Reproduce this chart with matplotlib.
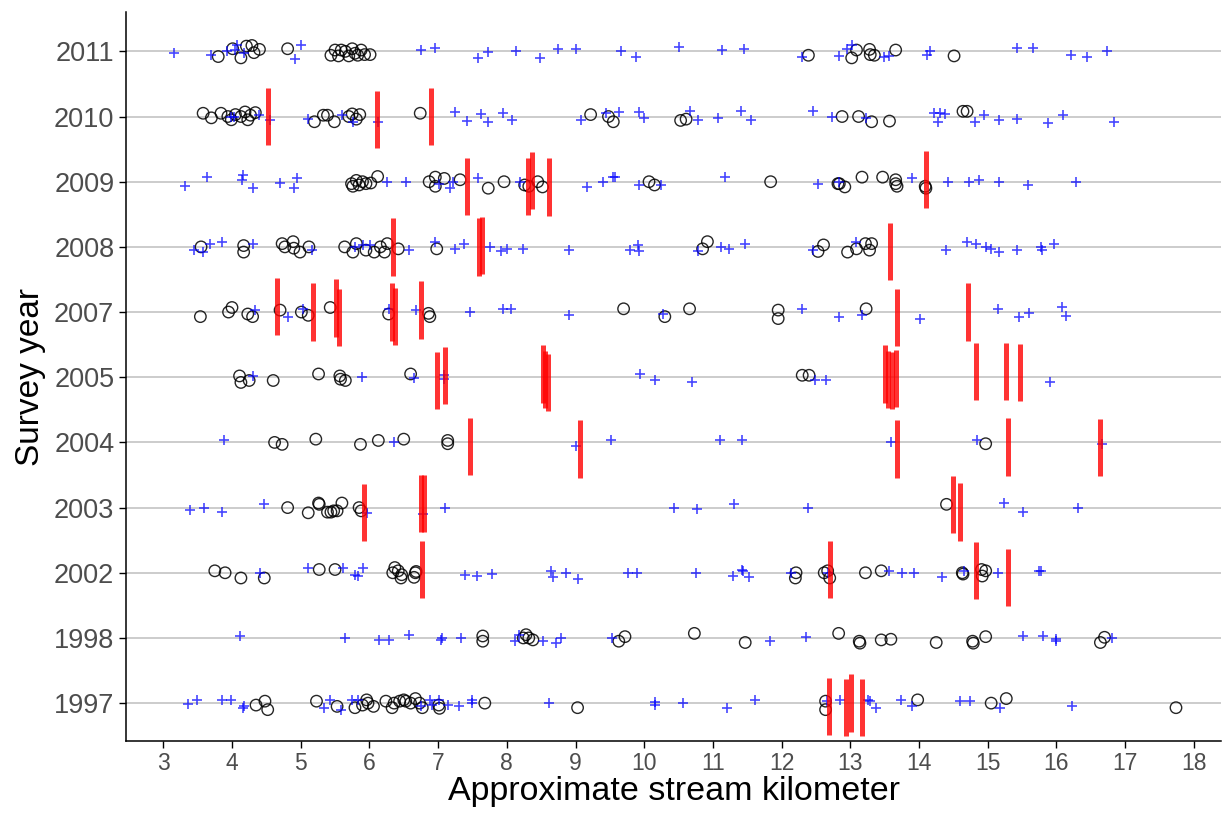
import matplotlib
matplotlib.use("Agg")
import matplotlib.pyplot as plt

plt.rcParams['font.family'] = ['Liberation Sans', 'DejaVu Sans']

# survey years, bottom to top
years = ["1997", "1998", "2002", "2003", "2004", "2005", "2007", "2008", "2009", "2010", "2011"]

# (stream km, vertical jitter)
circ_2011 = [(3.80, -.08), (4.01, .04), (4.13, -.10), (4.21, .08), (4.29, .09), (4.32, -.02), (4.40, .03),
             (4.81, .04), (5.44, -.06), (5.50, .02), (5.55, -.07), (5.59, .02), (5.65, 0), (5.70, -.07),
             (5.75, .04), (5.79, -.03), (5.83, -.06), (5.88, .02), (5.93, -.05), (6.01, -.05), (12.39, -.06),
             (13.02, -.10), (13.09, .02), (13.28, .03), (13.29, -.05), (13.35, -.06), (13.66, .02), (14.51, -.07)]
plus_2011 = [(3.15, -.03), (3.70, -.05), (3.93, 0), (4.05, .02), (4.08, .10), (4.18, -.03), (4.91, -.11),
             (5.01, .09), (6.75, .02), (6.96, .05), (7.58, -.10), (7.72, -.01), (8.13, 0), (8.48, -.10),
             (8.75, .04), (9.01, .03), (9.66, 0), (9.88, -.08), (10.50, .06), (11.13, .02), (11.45, .03),
             (12.30, -.09), (12.84, -.07), (12.95, .04), (13.03, .09), (13.49, -.09), (13.57, -.07),
             (14.11, -.06), (14.16, 0), (15.42, .05), (15.66, .05), (16.21, -.06), (16.45, -.08), (16.73, 0)]
bars_2011 = []

circ_2010 = [(3.58, .05), (3.70, -.02), (3.84, .05), (3.94, 0), (3.99, -.05), (4.05, .03), (4.13, 0),
             (4.19, .07), (4.23, -.05), (4.27, .02), (4.34, .06), (5.20, -.08), (5.33, .02), (5.39, .02),
             (5.49, -.08), (5.70, 0), (5.75, .04), (5.81, -.04), (5.86, .03), (6.74, .05), (9.22, .03),
             (9.48, 0), (9.55, -.08), (10.53, -.06), (10.61, -.04), (12.88, 0), (13.12, 0), (13.31, -.08),
             (13.57, -.07), (14.64, .08), (14.70, .08)]
plus_2010 = [(3.98, 0), (4.03, 0), (4.40, .02), (4.56, -.05), (5.11, -.04), (5.60, .02), (5.76, -.09),
             (6.12, -.08), (7.25, .07), (7.42, -.07), (7.63, .04), (7.72, -.08), (7.94, .05), (8.08, -.05),
             (9.08, -.05), (9.45, .06), (9.63, .07), (9.92, .07), (10.00, -.03), (10.66, .08), (10.78, -.06),
             (11.07, -.03), (11.41, .08), (11.55, -.05), (12.45, .08), (12.73, -.01), (13.23, -.02),
             (14.22, .05), (14.27, -.08), (14.30, .05), (14.38, .04), (14.81, -.08), (14.94, .02),
             (15.17, -.05), (15.43, -.04), (15.88, -.10), (16.09, .02), (16.84, -.08)]
bars_2010 = [(4.53, 0), (6.11, -.05), (6.90, 0)]

circ_2009 = [(5.74, -.03), (5.76, -.07), (5.81, .02), (5.85, -.05), (5.90, 0), (5.95, -.03), (6.02, -.02),
             (6.12, .08), (6.87, 0), (6.96, .07), (6.96, -.07), (7.09, .05), (7.32, .03), (7.73, -.10),
             (7.96, 0), (8.26, -.05), (8.32, -.07), (8.45, 0), (8.52, -.08), (10.07, 0), (10.15, -.05),
             (11.84, 0), (12.82, -.03), (12.84, -.03), (12.92, -.08), (13.17, .07), (13.47, .07), (13.66, .03),
             (13.66, -.03), (13.68, -.07), (14.09, -.07), (14.10, -.10)]
plus_2009 = [(3.31, -.07), (3.63, .07), (4.15, .02), (4.16, .10), (4.31, -.10), (4.70, -.02), (4.90, -.10),
             (4.95, .05), (6.26, -.01), (6.53, 0), (7.01, -.03), (7.18, -.10), (7.22, 0), (7.58, .05),
             (8.19, 0), (9.17, -.08), (9.40, 0), (9.55, .07), (9.57, .07), (9.92, -.05), (10.25, -.05),
             (11.18, .07), (12.53, -.03), (12.84, -.01), (13.90, .05), (14.42, 0), (14.73, 0), (14.88, .03),
             (15.17, 0), (15.58, -.05), (16.28, -.01)]
bars_2009 = [(7.42, -.07), (8.31, -.07), (8.36, .02), (8.62, -.08), (14.10, .03)]

circ_2008 = [(3.55, 0), (4.17, .02), (4.17, -.08), (4.73, .05), (4.77, 0), (4.89, .08), (4.90, -.02),
             (4.99, -.08), (5.12, 0), (5.64, 0), (5.76, -.08), (5.81, .05), (5.95, -.05), (6.07, -.08),
             (6.16, 0), (6.22, -.08), (6.26, .05), (6.42, -.03), (6.98, -.03), (10.85, -.03), (10.92, .08),
             (12.53, -.07), (12.61, .03), (12.96, -.08), (13.09, -.03), (13.22, .05), (13.28, -.05), (13.31, .05)]
plus_2008 = [(3.44, -.05), (3.58, -.08), (3.68, .05), (3.86, .08), (4.30, .05), (5.17, -.05), (5.79, 0),
             (5.90, .03), (6.01, .03), (6.57, -.05), (6.95, .07), (7.25, -.03), (7.37, .05), (7.76, 0),
             (7.91, -.07), (8.01, -.03), (8.24, -.03), (8.90, -.05), (9.79, -.05), (9.91, .03), (9.92, -.07),
             (10.79, -.07), (11.12, 0), (11.23, -.03), (11.47, .05), (12.45, -.05), (13.08, .07), (14.39, -.05),
             (14.70, .07), (14.83, .05), (14.97, 0), (15.05, -.03), (15.17, -.08), (15.42, -.05), (15.78, 0),
             (15.79, -.05), (15.96, .05)]
bars_2008 = [(6.34, 0), (7.60, 0), (7.64, .02), (13.58, -.07)]

circ_2007 = [(3.54, -.07), (3.95, 0), (4.00, .07), (4.23, -.03), (4.30, -.07), (4.70, .03), (5.01, 0),
             (5.11, -.05), (5.43, .07), (6.28, -.03), (6.86, -.02), (6.88, -.07), (9.70, .05), (10.30, -.07),
             (10.66, .05), (11.95, .03), (11.95, -.10), (13.23, .05)]
plus_2007 = [(4.34, .03), (4.81, -.07), (5.03, .05), (6.29, .05), (6.68, .03), (7.46, 0), (7.95, .05),
             (8.06, .05), (8.91, -.05), (10.28, -.03), (12.30, .05), (12.84, -.07), (13.17, -.05),
             (14.02, -.10), (15.15, .04), (15.46, -.07), (15.60, -.02), (16.08, .07), (16.14, -.06)]
bars_2007 = [(4.65, .09), (5.18, 0), (5.52, .06), (5.56, -.08), (6.33, 0), (6.38, -.07), (6.75, .03),
             (13.68, -.08), (14.71, 0)]

circ_2005 = [(4.11, .02), (4.13, -.08), (4.25, -.05), (4.60, -.05), (5.26, .05), (5.57, .02), (5.58, -.03),
             (5.65, -.05), (6.60, .05), (12.30, .03), (12.40, .03)]
plus_2005 = [(4.30, .02), (5.89, 0), (6.65, -.01), (7.08, .03), (7.09, -.03), (9.94, .05), (10.15, -.05),
             (10.70, -.07), (12.48, -.05), (12.64, -.05), (15.91, -.07)]
bars_2005 = [(6.98, -.05), (7.10, .03), (8.52, .05), (8.56, -.03), (8.60, -.08), (13.50, .05), (13.55, -.03),
             (13.61, -.05), (13.66, -.02), (14.83, .09), (15.26, .09), (15.47, .07)]

circ_2004 = [(4.62, 0), (4.73, -.03), (5.22, .05), (5.87, -.03), (6.13, .03), (6.50, .05), (7.14, .03),
             (7.14, -.02), (14.97, -.02)]
plus_2004 = [(3.89, .03), (6.36, 0), (9.00, -.05), (9.51, .03), (11.11, .03), (11.43, .03), (13.59, 0),
             (14.84, .03), (16.66, -.02)]
bars_2004 = [(7.46, -.06), (9.07, -.1), (13.68, -.1), (15.30, -.07), (16.64, -.08)]

circ_2003 = [(4.81, 0), (5.11, -.08), (5.26, .07), (5.27, .05), (5.39, -.07), (5.44, -.07), (5.48, -.05),
             (5.53, -.05), (5.60, .07), (5.85, 0), (5.88, -.05), (14.40, .05)]
plus_2003 = [(3.39, -.03), (3.59, 0), (3.85, -.07), (4.46, .05), (5.96, -.08), (6.78, -.10), (7.10, 0),
             (10.43, 0), (10.77, -.02), (11.30, .05), (12.38, 0), (15.23, .07), (15.51, -.07), (16.31, 0)]
bars_2003 = [(5.92, -.08), (6.75, .06), (6.79, .06), (14.50, .05), (14.59, -.07)]

circ_2002 = [(3.75, .03), (3.90, 0), (4.13, -.08), (4.47, -.08), (5.27, .05), (5.50, .05), (6.34, 0),
             (6.37, .08), (6.42, .03), (6.46, -.08), (6.47, -.03), (6.65, -.07), (6.67, 0), (6.68, .02),
             (12.21, 0), (12.20, -.08), (12.62, 0), (12.67, .03), (12.70, -.08), (13.22, 0), (13.45, .03),
             (14.63, 0), (14.64, -.02), (14.91, .05), (14.97, .03), (14.92, -.05)]
plus_2002 = [(4.41, 0), (5.11, .07), (5.62, .07), (5.79, -.03), (5.83, -.05), (5.91, .07), (7.39, -.03),
             (7.56, -.05), (7.78, -.02), (8.64, .03), (8.67, -.07), (8.86, 0), (9.03, -.10), (9.76, 0),
             (9.89, 0), (10.75, 0), (11.29, -.05), (11.42, .05), (11.44, .03), (11.53, -.07), (12.13, 0),
             (12.68, 0), (13.57, .03), (13.75, 0), (13.92, 0), (14.34, -.07), (14.66, .03), (15.15, -.01),
             (15.75, .03), (15.77, .02)]
bars_2002 = [(6.76, .05), (12.70, .05), (14.83, .03), (15.29, -.07)]

circ_1998 = [(7.65, .03), (7.65, -.05), (8.24, 0), (8.28, .05), (8.32, 0), (8.38, -.03), (9.63, -.05),
             (9.72, .02), (10.73, .07), (11.47, -.07), (12.83, .07), (13.13, -.05), (13.14, -.08), (13.45, -.03),
             (13.59, -.02), (14.25, -.07), (14.78, -.05), (14.79, -.08), (14.97, .02), (16.64, -.07), (16.70, .01)]
plus_1998 = [(4.11, .03), (5.64, 0), (6.14, -.03), (6.28, -.03), (6.58, .05), (7.04, -.03), (7.05, 0),
             (7.34, 0), (8.12, -.05), (8.18, .05), (8.53, -.05), (8.71, -.07), (8.79, 0), (9.53, 0),
             (11.83, -.05), (12.35, .02), (15.52, .03), (15.81, .03), (15.99, -.02), (16.00, -.05), (16.81, 0)]
bars_1998 = []

circ_1997 = [(4.35, -.03), (4.48, .03), (4.52, -.10), (5.23, .03), (5.53, -.05), (5.79, -.07), (5.90, -.03),
             (5.96, .05), (5.98, 0), (6.06, -.05), (6.24, .03), (6.33, -.07), (6.36, 0), (6.44, .03),
             (6.50, .05), (6.53, .03), (6.60, 0), (6.67, .07), (6.73, 0), (6.77, -.07), (7.01, -.03),
             (7.02, -.08), (7.68, 0), (9.03, -.07), (12.64, .03), (12.64, -.10), (13.98, .05), (15.05, 0),
             (15.27, .07), (17.74, -.07)]
plus_1997 = [(3.36, -.01), (3.49, .05), (3.85, .05), (3.99, .05), (4.16, -.07), (4.18, -.05), (5.34, -.07),
             (5.43, .05), (5.59, -.10), (5.75, .05), (5.83, .05), (6.75, -.05), (6.88, .05), (6.91, -.03),
             (7.01, .05), (7.14, -.03), (7.30, -.05), (7.50, .05), (7.50, 0), (8.62, 0), (10.16, .02),
             (10.16, -.03), (10.57, 0), (11.21, -.07), (11.61, .05), (12.66, .03), (12.85, .05), (13.26, .05),
             (13.29, .03), (13.37, -.07), (13.74, .05), (13.90, -.05), (14.59, .03), (14.74, .03),
             (15.18, -.07), (16.22, -.05)]
bars_1997 = [(12.69, -.05), (12.94, -.07), (13.01, 0), (13.17, -.07)]

circles = [circ_1997, circ_1998, circ_2002, circ_2003, circ_2004, circ_2005,
           circ_2007, circ_2008, circ_2009, circ_2010, circ_2011]
pluses = [plus_1997, plus_1998, plus_2002, plus_2003, plus_2004, plus_2005,
          plus_2007, plus_2008, plus_2009, plus_2010, plus_2011]
bars = [bars_1997, bars_1998, bars_2002, bars_2003, bars_2004, bars_2005,
        bars_2007, bars_2008, bars_2009, bars_2010, bars_2011]

fig, ax = plt.subplots(figsize=(12.25, 8.16), dpi=100)
fig.subplots_adjust(left=0.103, right=0.997, top=0.985, bottom=0.092)

for i in range(len(years)):
    ax.axhline(i, color="#BEBEBE", lw=1.1, zorder=0)

    if circles[i]:
        x = [p[0] for p in circles[i]]
        y = [i + p[1] for p in circles[i]]
        ax.scatter(x, y, s=68, facecolors="none", edgecolors="black", linewidths=1.0,
                   alpha=0.85, zorder=3)
    if pluses[i]:
        x = [p[0] for p in pluses[i]]
        y = [i + p[1] for p in pluses[i]]
        ax.scatter(x, y, s=60, marker="+", color="blue", linewidths=1.2, alpha=0.72, zorder=3)
    for km, dy in bars[i]:
        ax.vlines(km, i + dy - 0.44, i + dy + 0.44, color="red", lw=3.6, alpha=0.8, zorder=4)

ax.set_xlim(2.46, 18.4)
ax.set_ylim(-0.58, 10.6)
ax.set_xticks(range(3, 19))
ax.set_yticks(range(len(years)))
ax.set_yticklabels(years)
ax.tick_params(axis="y", labelsize=19.5, labelcolor="#4D4D4D", length=5, width=1)
ax.tick_params(axis="x", labelsize=16.5, labelcolor="#4D4D4D", length=5, width=1, pad=3)

for side in ["top", "right"]:
    ax.spines[side].set_visible(False)
for side in ["left", "bottom"]:
    ax.spines[side].set_linewidth(1.1)

ax.set_xlabel("Approximate stream kilometer", fontsize=24.5, labelpad=1)
ax.set_ylabel("Survey year", fontsize=24, labelpad=6)

plt.savefig("out.png", dpi=100)
